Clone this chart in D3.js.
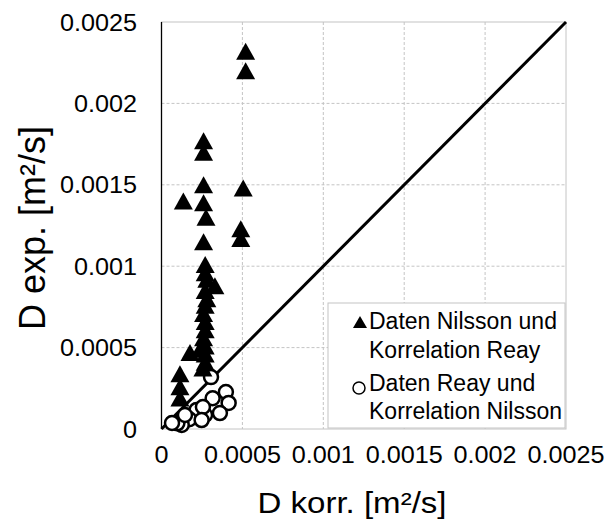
<!DOCTYPE html>
<html lang="de">
<head>
<meta charset="UTF-8">
<title>D exp. vs D korr.</title>
<script src="https://d3js.org/d3.v7.min.js"></script>
<style>
  body { margin: 0; background: #fff; }
  text { font-family: "Liberation Sans", Arial, sans-serif; fill: #000; }
</style>
</head>
<body>
<svg id="chart" width="605" height="523"></svg>
<script>
// data: [D korr, D exp] in m²/s
var nilssonReay = [
  [0.00052, 0.00232], [0.00052, 0.00220],
  [0.00026, 0.00177], [0.00026, 0.00170],
  [0.000505, 0.00148], [0.00026, 0.00150],
  [0.000135, 0.00140], [0.00026, 0.00139],
  [0.000275, 0.00130], [0.00049, 0.00123], [0.00049, 0.00117],
  [0.00026, 0.00115],
  [0.00027, 0.00101], [0.00027, 0.00096], [0.00028, 0.00092],
  [0.00033, 0.00088], [0.00027, 0.00085], [0.00028, 0.00080],
  [0.00027, 0.00076], [0.00026, 0.00071], [0.00027, 0.00066],
  [0.00027, 0.00061], [0.00026, 0.00056], [0.00027, 0.00051],
  [0.000238, 0.00049], [0.000176, 0.00047], [0.00027, 0.00046],
  [0.00027, 0.00041], [0.000256, 0.000375],
  [0.000114, 0.00034], [0.000114, 0.00026], [0.000114, 0.00019]
];
var reayNilsson = [
  [0.000306, 0.000319], [0.000398, 0.000227], [0.000316, 0.000189],
  [0.000415, 0.00016], [0.000361, 0.000098], [0.000269, 0.000086],
  [0.000217, 0.000117], [0.000256, 0.000135], [0.000172, 0.00006],
  [0.000125, 0.000025], [0.000098, 0.000035], [0.000248, 0.000055],
  [0.000065, 0.000037], [0.000145, 0.000086]
];
var ticks = [0, 0.0005, 0.001, 0.0015, 0.002, 0.0025];
var tickLabels = ["0", "0.0005", "0.001", "0.0015", "0.002", "0.0025"];
var legendLabels = [["Daten Nilsson und", "Korrelation Reay"], ["Daten Reay und", "Korrelation Nilsson"]];

var svg = d3.select("#chart");
var pLeft = 161.5, pRight = 566, pTop = 22, pBottom = 429;

var x = d3.scaleLinear().domain([0, 0.0025]).range([pLeft, pRight]);
var y = d3.scaleLinear().domain([0, 0.0025]).range([pBottom, pTop]);

// gridlines
var grid = svg.append("g");
grid.selectAll(".gx").data(ticks.slice(1, -1)).enter().append("line")
  .attr("x1", d => x(d)).attr("x2", d => x(d))
  .attr("y1", pTop).attr("y2", pBottom)
  .attr("stroke", "#c4c4c4").attr("stroke-dasharray", "3,2");
grid.selectAll(".gy").data(ticks.slice(1, -1)).enter().append("line")
  .attr("y1", d => y(d)).attr("y2", d => y(d))
  .attr("x1", pLeft).attr("x2", pRight)
  .attr("stroke", "#c4c4c4").attr("stroke-dasharray", "3,2");

// frame
svg.append("rect")
  .attr("x", pLeft).attr("y", pTop)
  .attr("width", pRight - pLeft).attr("height", pBottom - pTop)
  .attr("fill", "none").attr("stroke", "#c4c4c4");
svg.append("line")
  .attr("x1", pLeft).attr("x2", pLeft).attr("y1", pTop).attr("y2", pBottom)
  .attr("stroke", "#000").attr("stroke-width", 1.3);

// y = x line
svg.append("line")
  .attr("x1", x(0)).attr("y1", y(0))
  .attr("x2", x(0.0025)).attr("y2", y(0.0025))
  .attr("stroke", "#000").attr("stroke-width", 3);

// circles
svg.append("g").selectAll("circle").data(reayNilsson).enter().append("circle")
  .attr("cx", d => x(d[0])).attr("cy", d => y(d[1]))
  .attr("r", 7)
  .attr("fill", "#fff").attr("stroke", "#000").attr("stroke-width", 2.5);

// triangles
var tri = "M0,-8.5L9.5,8.5L-9.5,8.5Z";
svg.append("g").selectAll("path").data(nilssonReay).enter().append("path")
  .attr("d", tri)
  .attr("transform", d => "translate(" + x(d[0]) + "," + y(d[1]) + ")")
  .attr("fill", "#000");

// tick labels
var sx = 1.05;
svg.append("g").selectAll("text").data(ticks).enter().append("text")
  .attr("transform", d => "translate(137," + (y(d) + 8.5) + ") scale(" + sx + ",1)")
  .attr("text-anchor", "end")
  .style("font-size", "24px")
  .text((d, i) => tickLabels[i]);
svg.append("g").selectAll("text").data(ticks).enter().append("text")
  .attr("transform", d => "translate(" + x(d) + ",463) scale(" + sx + ",1)")
  .attr("text-anchor", "middle")
  .style("font-size", "24px")
  .text((d, i) => tickLabels[i]);

// axis titles
svg.append("text")
  .attr("transform", "translate(352,513) scale(1.14,1)")
  .attr("text-anchor", "middle")
  .style("font-size", "29px")
  .text("D korr. [m²/s]");
svg.append("text")
  .attr("transform", "translate(45,228) rotate(-90)")
  .attr("text-anchor", "middle")
  .style("font-size", "36px")
  .text("D exp. [m²/s]");

// legend
var lg = svg.append("g");
lg.append("rect")
  .attr("x", 328).attr("y", 303).attr("width", 237).attr("height", 125)
  .attr("fill", "#fff").attr("stroke", "#c4c4c4");
lg.append("path").attr("d", "M0,-6L7,6L-7,6Z")
  .attr("transform", "translate(360,322)").attr("fill", "#000");
lg.append("circle").attr("cx", 359).attr("cy", 388).attr("r", 6)
  .attr("fill", "#fff").attr("stroke", "#000").attr("stroke-width", 1.5);
var baselines = [[329, 358], [391, 419]];
legendLabels.forEach(function(lines, i) {
  lines.forEach(function(t, j) {
    lg.append("text")
      .attr("x", 369).attr("y", baselines[i][j])
      .style("font-size", "23px")
      .text(t);
  });
});
</script>
</body>
</html>
